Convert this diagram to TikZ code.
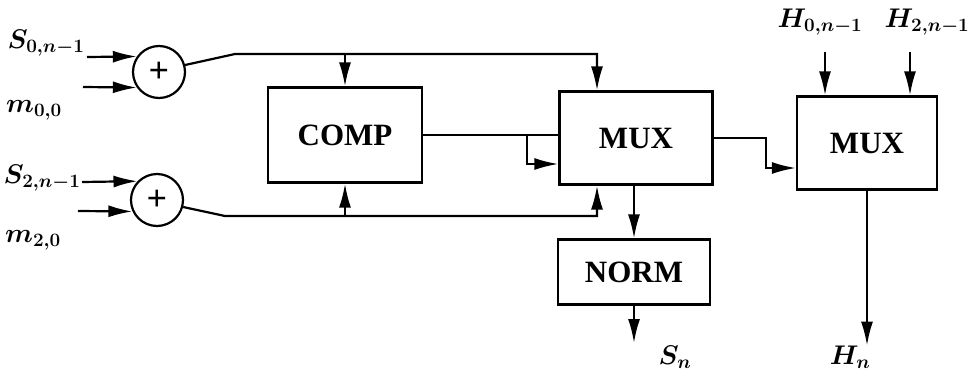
\documentclass[tikz,border=0pt]{standalone}
\usepackage{fix-cm}
\usepackage{amsmath}
\usepackage{fontspec}
\setmainfont{Liberation Serif}
\usetikzlibrary{arrows.meta,positioning}

\begin{document}
\begin{tikzpicture}[x=1pt, y=-1pt, line width=2.2pt,
    block/.style={draw, inner sep=0pt, font=\fontsize{31}{36}\selectfont\bfseries},
    adder/.style={draw, circle, minimum size=52pt, inner sep=0pt, font=\fontsize{36}{36}\selectfont\bfseries},
    sig/.style={-{Latex[length=24pt,width=12pt]}},
    lbl/.style={font=\fontsize{27}{30}\selectfont\boldmath}]
    \useasboundingbox (0,0) rectangle (969,375);

    % Adders
    \node[adder] (add0) at (159,72) {+};
    \node[adder] (add2) at (157,200) {+};

    % Blocks
    \node[block, minimum width=154pt, minimum height=95pt] (comp) at (345,135) {COMP};
    \node[block, minimum width=153pt, minimum height=93pt] (mux1) at (636,138) {MUX};
    \node[block, minimum width=152pt, minimum height=65pt] (norm) at (634,272) {NORM};
    \node[block, minimum width=140pt, minimum height=93pt] (mux2) at (867,143) {MUX};

    % Input labels
    \node[lbl] (lS0) at (46,43) {$S_{0,n-1}$};
    \node[lbl] (lm0) at (34,110) {$m_{0,0}$};
    \node[lbl] (lS2) at (42,178) {$S_{2,n-1}$};
    \node[lbl] (lm2) at (33,240) {$m_{2,0}$};
    \node[lbl] (lH0) at (820,22) {$H_{0,n-1}$};
    \node[lbl] (lH2) at (927,22) {$H_{2,n-1}$};

    % Inputs to the adders
    \coordinate (inS0) at (87,57);
    \coordinate (inm0) at (83,87);
    \coordinate (inS2) at (82,182);
    \coordinate (inm2) at (78,211);
    \draw[sig] (inS0) -- (add0.145);
    \draw[sig] (inm0) -- (add0.215);
    \draw[sig] (inS2) -- (add2.136);
    \draw[sig] (inm2) -- (add2.205);

    % Sum buses
    \coordinate (bend0) at (235,54);
    \coordinate (tap0) at (597,54);
    \coordinate (bend2) at (225,216);
    \coordinate (tap2) at (597,216);
    \draw[sig] (add0.15) -- (bend0) -- (tap0) -- (tap0 |- mux1.north);
    \draw[sig] (bend0 -| comp.north) -- (comp.north);
    \draw[sig] (add2.-15) -- (bend2) -- (tap2) -- (tap2 |- mux1.south);
    \draw[sig] (bend2 -| comp.south) -- (comp.south);

    % Compare result
    \coordinate (fork) at (527,135);
    \draw (comp.east) -- (comp.east -| mux1.west);
    \draw[sig] (fork) |- ([yshift=-26pt]mux1.west);

    % Outputs
    \coordinate (outS) at (634,343);
    \coordinate (outH) at ([yshift=-155pt]mux2.south);
    \draw[sig] (mux1.south -| norm.north) -- (norm.north);
    \draw[sig] (norm.south) -- (outS);
    \draw[sig] (mux1.east) -- ++(52,0) |- ([yshift=-25pt]mux2.west);
    \coordinate (inH0) at (825,52);
    \coordinate (inH2) at (910,52);
    \draw[sig] (inH0) -- (inH0 |- mux2.north);
    \draw[sig] (inH2) -- (inH2 |- mux2.north);
    \draw[sig] (mux2.south) -- (outH);

    \node[lbl] (lSn) at (675,357) {$S_n$};
    \node[lbl] (lHn) at (850,357) {$H_n$};
\end{tikzpicture}
\end{document}
